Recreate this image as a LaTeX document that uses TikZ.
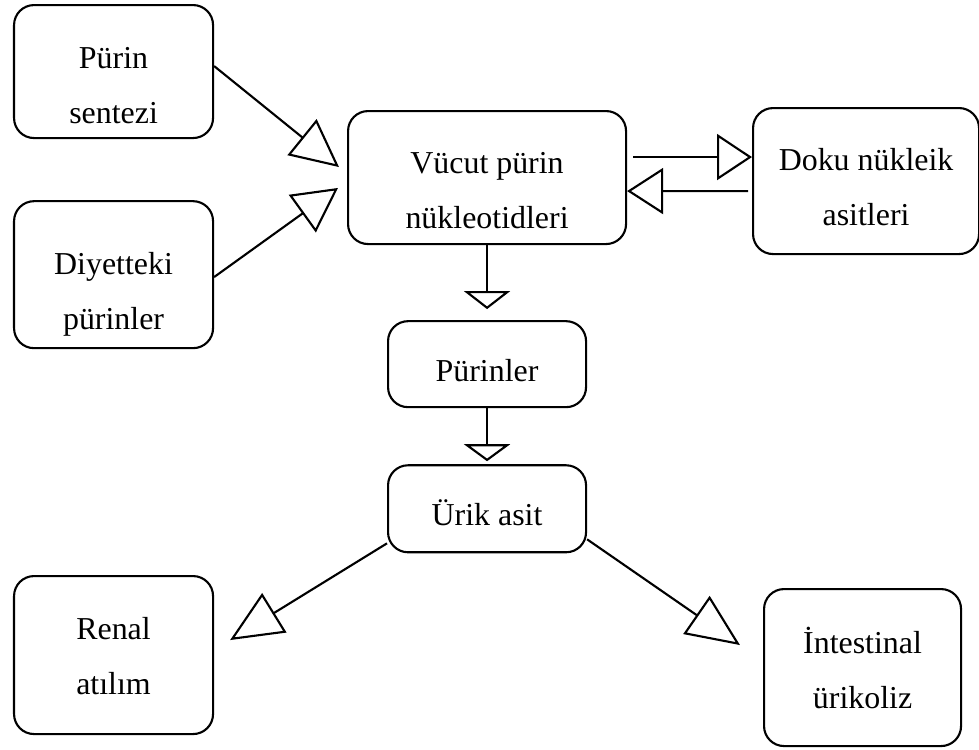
\documentclass[tikz,border=0pt]{standalone}
\usepackage{fontspec}
\setmainfont{Liberation Serif}
\usepackage{tikz}
\usetikzlibrary{arrows.meta,positioning}

\begin{document}
\begin{tikzpicture}[
    box/.style={draw, line width=1.5pt, rounded corners=0.5cm, inner sep=0pt, align=center,
        font=\fontsize{22.7}{39.1}\selectfont},
    hollow/.style={-{Triangle[open, length=#1, width=1.15cm]}, line width=1.5pt}
]
\useasboundingbox (0,0) rectangle (24.475,-18.725);

\node[box, anchor=north west, minimum width=4.975cm, text height=2.95cm, text depth=0.375cm] (syn) at (0.325,-0.1) {Pürin\\sentezi};
\node[box, below=1.525cm of syn, minimum width=4.975cm, text height=3.2cm, text depth=0.475cm] (diet) {Diyetteki\\pürinler};
\node[box, anchor=north west, minimum width=6.95cm, text height=2.925cm, text depth=0.4cm] (body) at (8.675,-2.75) {Vücut pürin\\nükleotidleri};
\node[box, anchor=north west, minimum width=5.65cm, text height=2.925cm, text depth=0.725cm] (tissue) at (18.8,-2.675) {Doku nükleik\\asitleri};
\node[box, below=1.875cm of body, minimum width=4.95cm, text height=1.5cm, text depth=0.65cm] (purines) {Pürinler};
\node[box, below=1.4cm of purines, minimum width=4.95cm, text height=1.5cm, text depth=0.675cm] (uric) {Ürik asit};
\node[box, anchor=north west, minimum width=4.975cm, text height=2.95cm, text depth=1cm] (renal) at (0.325,-14.375) {Renal\\atılım};
\node[box, anchor=north west, minimum width=4.925cm, text height=2.975cm, text depth=0.95cm] (intest) at (19.075,-14.7) {İntestinal\\ürikoliz};

% sources into the body pool
\draw[hollow=1.19cm] ([yshift=0.1375cm]syn.east) -- ([xshift=-0.2cm,yshift=0.2625cm]body.west);
\draw[hollow=1.1cm] ([yshift=-0.06cm]diet.east) -- ([xshift=-0.225cm,yshift=-0.26cm]body.west);

% exchange with tissue
\draw[hollow=0.875cm] ([xshift=0.15cm,yshift=0.5125cm]body.east) -- ([yshift=0.6cm]tissue.west);
\draw[hollow=0.9cm] ([xshift=-0.1cm,yshift=-0.25cm]tissue.west) -- ([yshift=-0.3375cm]body.east);

% breakdown
\draw[hollow=0.45cm] (body.south) -- ([yshift=0.275cm]purines.north);
\draw[hollow=0.425cm] (purines.south) -- ([yshift=0.075cm]uric.north);
\draw[hollow=1.3cm] ([yshift=0.25cm]uric.south west) -- ([xshift=0.4cm,yshift=0.375cm]renal.east);
\draw[hollow=1.325cm] ([yshift=0.35cm]uric.south east) -- ([xshift=-0.575cm,yshift=0.5625cm]intest.west);
\end{tikzpicture}
\end{document}
